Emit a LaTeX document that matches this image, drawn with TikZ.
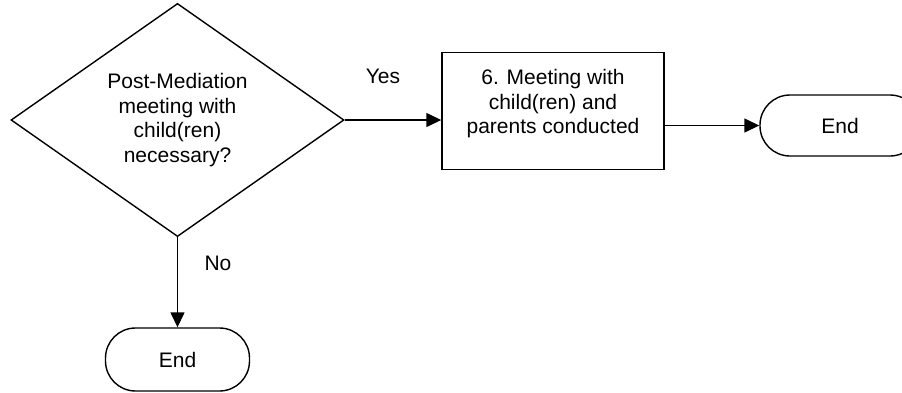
\documentclass[tikz,border=0pt]{standalone}
\usepackage{fontspec}
\setmainfont{Liberation Sans}
\usetikzlibrary{shapes.geometric,arrows.meta}
\begin{document}
\begin{tikzpicture}[x=1pt,y=-1pt,
  every node/.style={font=\fontsize{21}{24.5}\selectfont},
  line/.style={line width=1.4pt},
  arr/.style={line, -{Triangle[length=15pt,width=14pt]}},
  decision/.style={draw, line, diamond, inner sep=0pt, minimum width=333pt, minimum height=221pt, align=center},
  process/.style={draw, line, rectangle, minimum width=222pt, minimum height=117pt},
  terminal/.style={draw, line, rectangle, rounded corners=30pt, minimum height=61pt},
  lbl/.style={align=center, inner sep=0pt}]
\useasboundingbox (0,0) rectangle (902,392);
\node[decision] (d) at (177.5,120) {Post-Mediation\\meeting with\\child(ren)\\necessary?};
\node[process] (p) at (553,111) {};
\node[lbl, anchor=north] (pt) at (553,69.3) {6. Meeting with\\child(ren) and\\parents conducted};
\node[terminal, minimum width=160pt] (e1) at (840,125.5) {End};
\node[terminal, minimum width=144pt, minimum height=63pt] (e2) at (177.5,359.5) {End};
\node (yes) at (383,76) {Yes};
\node (no) at (218,263) {No};
\draw[arr] (d.east) -- (d.east -| p.west);
\draw[arr] (p.east |- e1.west) -- (e1.west);
\draw[arr] (d.south) -- (e2.north);
\end{tikzpicture}
\end{document}
